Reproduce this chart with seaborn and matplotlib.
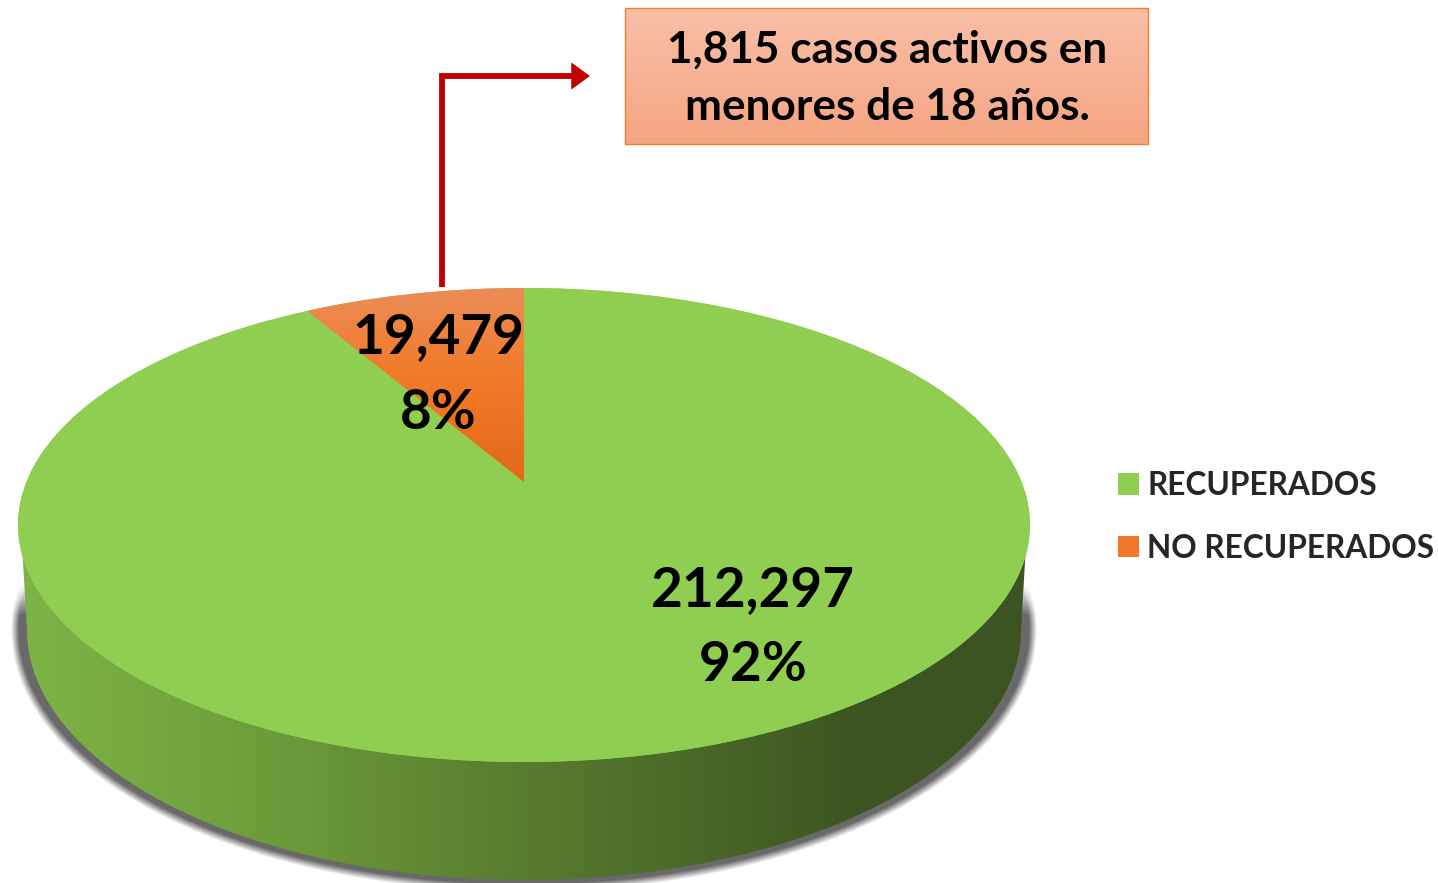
import matplotlib
matplotlib.use('Agg')
import matplotlib.pyplot as plt
import matplotlib.patches as mpatches
from matplotlib.colors import LinearSegmentedColormap
import numpy as np
import seaborn as sns

labels = ['RECUPERADOS', 'NO RECUPERADOS']
values = [212297, 19479]
percents = [92, 8]
note_lines = ['1,815 casos activos en', 'menores de 18 años.']

green, orange = '#8FCE50', '#F07828'

sns.set_theme(style='white')
plt.rcParams['font.family'] = ['Lato', 'DejaVu Sans']

W, H = 1438, 883
fig = plt.figure(figsize=(W / 100, H / 100), dpi=100)

# back layer in pixel coords: shadow and side wall of the disc
back = fig.add_axes([0, 0, 1, 1], zorder=1)
xx, yy = np.meshgrid(np.arange(W) + 0.5, np.arange(H) + 0.5)
sx, sy, srx, sry = 524, 630, 505, 254
r = np.hypot((xx - sx) / srx, (yy - sy) / sry)
grad = np.hypot((xx - sx) / srx ** 2, (yy - sy) / sry ** 2) / np.maximum(r, 1e-6)
dist = (r - 1) / np.maximum(grad, 1e-6)
shadow = np.zeros((H, W, 4))
shadow[..., :3] = 0.27
shadow[..., 3] = 0.8 * np.clip(1 - dist / 8, 0, 1) * np.clip((yy - 585) / 30, 0, 1)
back.imshow(shadow, extent=[0, W, H, 0], aspect='auto', zorder=1)

t = np.linspace(np.pi, 0, 200)
wall_x = np.r_[22, 524 + 497 * np.cos(t), 1026]
wall_y = np.r_[545, 630 + 250 * np.sin(t), 545]
wall = mpatches.Polygon(np.c_[wall_x, wall_y], closed=True, fc='none', ec='none', zorder=2)
back.add_patch(wall)
wall_cmap = LinearSegmentedColormap.from_list(
    'wall', [(0, '#7EB446'), (0.25, '#6D9C3B'), (0.5, '#587C2F'), (0.72, '#466326'), (0.84, '#3C5421'), (1, '#3C5421')])
img = back.imshow(np.linspace(0, 1, 512)[None, :], extent=[22, 1026, H, 500], aspect='auto',
                  cmap=wall_cmap, zorder=2)
img.set_clip_path(wall)
back.set_xlim(0, W)
back.set_ylim(H, 0)
back.axis('off')

# top of the disc, unit circle squeezed to an ellipse
ax = fig.add_axes([18 / W, (H - 762) / H, 1012 / W, 474 / H], zorder=2)
wedges, _ = ax.pie(values, colors=[green, orange], startangle=90, counterclock=False, radius=1,
                   wedgeprops=dict(linewidth=0, edgecolor='none'))
ax.set_aspect('auto')
ax.set_xlim(-1, 1)
ax.set_ylim(-1, 1)
ax.axis('off')

# the small slice is redrawn with its apex tilted for perspective
wedges[1].set_visible(False)
full = mpatches.Ellipse((0, 0), 2, 2, fc=green, ec='none', zorder=1)
ax.add_patch(full)
tilt = (525 - 482) / 237
theta = np.deg2rad(np.linspace(90, 90 + 360 * values[1] / sum(values), 60))
px, py = np.cos(theta), np.sin(theta)
den = 1 + tilt * py
arc_x = px * np.sqrt(1 - tilt ** 2) / den
arc_y = (py + tilt) / den
slice_patch = mpatches.Polygon(np.c_[np.r_[0, arc_x], np.r_[tilt, arc_y]], closed=True,
                               fc='none', ec='none', zorder=3)
ax.add_patch(slice_patch)
slice_cmap = LinearSegmentedColormap.from_list(
    'slice', [(0, '#EC8C58'), (0.45, '#F27A28'), (1, '#E3691A')])
img = ax.imshow(np.linspace(0, 1, 256)[:, None], extent=[-1, 1, tilt, 1], aspect='auto',
                cmap=slice_cmap, zorder=3)
img.set_clip_path(slice_patch)
ax.set_xlim(-1, 1)
ax.set_ylim(-1, 1)

# front layer: labels, arrow, note box, legend
front = fig.add_axes([0, 0, 1, 1], zorder=3)
front.patch.set_alpha(0)
front.set_xlim(0, W)
front.set_ylim(H, 0)
front.axis('off')

label_pos = [(753, 590, 665), (438, 337, 413)]
for v, p, (lx, y1, y2) in zip(values, percents, label_pos):
    front.text(lx, y1, f'{v:,}', ha='center', va='center', fontsize=39.5, fontweight='bold', color='black')
    front.text(lx, y2, f'{p}%', ha='center', va='center', fontsize=39.5, fontweight='bold', color='black')

box = mpatches.Rectangle((625, 8), 523, 136, fc='none', ec='#F07F2E', lw=1.0, zorder=3)
front.add_patch(box)
box_cmap = LinearSegmentedColormap.from_list('box', ['#F8BFA7', '#F6A583'])
img = front.imshow(np.linspace(0, 1, 64)[:, None], extent=[625, 1148, 144, 8], aspect='auto',
                   cmap=box_cmap, zorder=2)
front.set_xlim(0, W)
front.set_ylim(H, 0)
for line, y in zip(note_lines, [50, 107]):
    front.text(887, y, line, ha='center', va='center', fontsize=31.8, fontweight='bold', color='black', zorder=4)

front.plot([442, 442, 575], [287, 76, 76], color='#C00000', lw=4.2, solid_joinstyle='miter',
           solid_capstyle='butt', zorder=3)
front.annotate('', xy=(590, 76), xytext=(570, 76),
               arrowprops=dict(arrowstyle='-|>,head_length=0.9,head_width=0.65', color='#C00000',
                               lw=0, shrinkA=0, shrinkB=0, mutation_scale=15), zorder=3)

handles = [mpatches.Patch(fc=green, ec='none'), mpatches.Patch(fc=orange, ec='none')]
front.legend(handles, labels, loc='upper left', bbox_to_anchor=(1118 / W, 1 - 471 / H),
             bbox_transform=fig.transFigure, frameon=False, handlelength=0.66,
             handleheight=0.66, handletextpad=0.27, labelspacing=1.06, borderaxespad=0, borderpad=0,
             prop={'weight': 'bold', 'size': 22.8})

fig.savefig('out.png', dpi=100)
